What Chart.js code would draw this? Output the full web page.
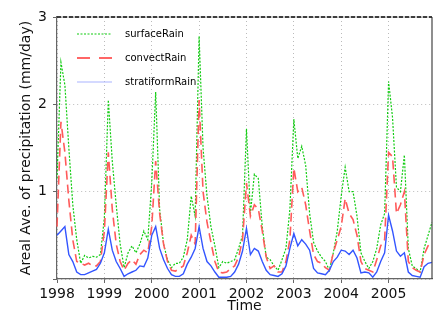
<!DOCTYPE html>
<html>
<head>
<meta charset="utf-8">
<script src="https://cdn.jsdelivr.net/npm/chart.js@4/dist/chart.umd.min.js"></script>
<style>
  html, body { margin: 0; padding: 0; background: #fff; }
  #wrap { width: 448px; height: 316px; }
</style>
</head>
<body>
<div id="wrap"><canvas id="chart" width="448" height="316"></canvas></div>
<script>
// years shown on the x axis, one point per month
const years = ['1998', '1999', '2000', '2001', '2002', '2003', '2004', '2005'];
const months = ['01', '02', '03', '04', '05', '06', '07', '08', '09', '10', '11', '12'];

// monthly areal average precipitation (mm/day), Jan 1998 .. Dec 2005
const surfaceRain = [
    1.15, 2.48, 2.22, 1.5, 0.85, 0.45, 0.18, 0.27, 0.24, 0.26, 0.25, 0.28,
    0.7, 2.05, 1.35, 0.85, 0.4, 0.13, 0.3, 0.38, 0.3, 0.4, 0.55, 0.45,
    1.1, 2.14, 0.8, 0.4, 0.22, 0.13, 0.18, 0.18, 0.25, 0.45, 0.95, 0.72,
    2.78, 1.5, 0.95, 0.6, 0.38, 0.13, 0.2, 0.18, 0.2, 0.22, 0.35, 0.5,
    1.72, 0.75, 1.2, 1.15, 0.6, 0.25, 0.22, 0.15, 0.1, 0.22, 0.35, 0.8,
    1.83, 1.38, 1.52, 1.3, 0.75, 0.42, 0.32, 0.25, 0.2, 0.1, 0.3, 0.55,
    0.95, 1.28, 1.0, 1.0, 0.72, 0.3, 0.2, 0.12, 0.2, 0.35, 0.62, 0.75,
    2.26, 1.85, 1.05, 1.0, 1.42, 0.35, 0.15, 0.12, 0.08, 0.35, 0.5, 0.65
];
const convectRain = [
    0.6, 1.8, 1.45, 0.9, 0.45, 0.2, 0.18, 0.16, 0.18, 0.15, 0.15, 0.2,
    0.55, 1.45, 0.8, 0.4, 0.2, 0.1, 0.18, 0.22, 0.17, 0.28, 0.33, 0.3,
    0.6, 1.35, 0.75, 0.4, 0.2, 0.1, 0.09, 0.12, 0.15, 0.3, 0.5, 0.4,
    2.05, 1.0, 0.65, 0.42, 0.2, 0.08, 0.07, 0.08, 0.12, 0.15, 0.25, 0.45,
    1.1, 0.72, 0.85, 0.8, 0.55, 0.25, 0.12, 0.15, 0.08, 0.08, 0.2, 0.45,
    1.27, 1.0, 1.05, 0.85, 0.55, 0.28, 0.2, 0.18, 0.13, 0.1, 0.3, 0.45,
    0.6, 0.92, 0.75, 0.68, 0.5, 0.2, 0.12, 0.1, 0.08, 0.22, 0.38, 0.45,
    1.45, 1.4, 0.75, 0.85, 1.0, 0.2, 0.13, 0.1, 0.08, 0.28, 0.38, 0.42
];
const stratiformRain = [
    0.5, 0.55, 0.6, 0.28, 0.2, 0.08, 0.05, 0.05, 0.07, 0.09, 0.11, 0.18,
    0.3, 0.57, 0.33, 0.2, 0.12, 0.03, 0.06, 0.08, 0.1, 0.15, 0.14, 0.24,
    0.5, 0.6, 0.35, 0.22, 0.12, 0.05, 0.03, 0.03, 0.06, 0.17, 0.25, 0.35,
    0.6, 0.35, 0.2, 0.15, 0.08, 0.02, 0.02, 0.02, 0.03, 0.08, 0.17, 0.32,
    0.58, 0.28, 0.35, 0.32, 0.2, 0.1, 0.05, 0.04, 0.03, 0.06, 0.15, 0.35,
    0.52, 0.38, 0.45, 0.4, 0.33, 0.12, 0.07, 0.06, 0.05, 0.1, 0.2, 0.25,
    0.33, 0.32, 0.28, 0.33, 0.24, 0.07, 0.08, 0.07, 0.02, 0.08, 0.2, 0.3,
    0.73, 0.55, 0.32, 0.26, 0.3, 0.08, 0.04, 0.03, 0.02, 0.14, 0.18, 0.19
];

// y tick values, 0 is left unlabeled like the original
const yTicks = [0, 1, 2, 3];

const labels = [];
years.forEach(y => months.forEach(m => labels.push(y + '-' + m)));

const FONT = 'DejaVu Sans';

// legend drawn inside the plot area + frame on top/right
const framePlugin = {
    id: 'frame',
    afterDatasetsDraw(chart) {
        const {ctx, chartArea: a} = chart;
        ctx.save();
        // right edge
        ctx.strokeStyle = '#444';
        ctx.lineWidth = 1.2;
        ctx.beginPath();
        ctx.moveTo(a.right, a.top);
        ctx.lineTo(a.right, a.bottom);
        ctx.stroke();
        // top edge, dashed dark
        ctx.strokeStyle = '#999';
        ctx.lineWidth = 1;
        ctx.beginPath();
        ctx.moveTo(a.left, a.top);
        ctx.lineTo(a.right, a.top);
        ctx.stroke();
        ctx.strokeStyle = '#111';
        ctx.lineWidth = 1.5;
        ctx.setLineDash([4, 2]);
        ctx.beginPath();
        ctx.moveTo(a.left, a.top);
        ctx.lineTo(a.right, a.top);
        ctx.stroke();
        ctx.setLineDash([]);

        // legend
        const rows = [
            {text: 'surfaceRain', color: '#11cc11', dash: [2, 1.5], width: 1.2},
            {text: 'convectRain', color: '#ff6666', dash: [13, 9], width: 2},
            {text: 'stratiformRain', color: '#aab4ff', dash: [], width: 1.2}
        ];
        ctx.font = '10px "' + FONT + '"';
        ctx.textBaseline = 'middle';
        ctx.fillStyle = '#000';
        rows.forEach((r, i) => {
            const y = 34 + i * 24;
            ctx.strokeStyle = r.color;
            ctx.lineWidth = r.width;
            ctx.setLineDash(r.dash);
            ctx.beginPath();
            ctx.moveTo(77, y);
            ctx.lineTo(112, y);
            ctx.stroke();
            ctx.setLineDash([]);
            ctx.fillText(r.text, 125, y);
        });
        ctx.restore();
    }
};

new Chart(document.getElementById('chart'), {
    type: 'line',
    data: {
        labels: labels,
        datasets: [
            {
                label: 'surfaceRain',
                data: surfaceRain,
                borderColor: '#11cc11',
                borderWidth: 1.2,
                borderDash: [2, 1.5],
                pointRadius: 0,
                tension: 0,
                order: 3
            },
            {
                label: 'convectRain',
                data: convectRain,
                borderColor: '#ff5a5a',
                borderWidth: 1.6,
                borderDash: [9, 5],
                pointRadius: 0,
                tension: 0,
                order: 2
            },
            {
                label: 'stratiformRain',
                data: stratiformRain,
                borderColor: '#3355ff',
                borderWidth: 1.4,
                pointRadius: 0,
                tension: 0,
                order: 1
            }
        ]
    },
    options: {
        responsive: false,
        animation: false,
        devicePixelRatio: 1,
        layout: {padding: {top: 17, right: 16, left: 0, bottom: 0}},
        plugins: {
            legend: {display: false},
            tooltip: {enabled: false}
        },
        scales: {
            x: {
                type: 'category',
                offset: false,
                afterFit: s => { s.height = 37; },
                ticks: {
                    autoSkip: false,
                    maxRotation: 0,
                    minRotation: 0,
                    padding: 3,
                    color: '#111',
                    font: {family: FONT, size: 14},
                    callback: (v, i) => i % 12 === 0 ? labels[i].slice(0, 4) : ''
                },
                grid: {
                    color: c => (c.index % 12 === 0 ? '#bbb' : 'transparent'),
                    tickColor: c => (c.index % 12 === 0 ? '#666' : 'transparent'),
                    tickLength: 4,
                    lineWidth: 1
                },
                border: {display: true, color: '#666', width: 1.2, dash: [1, 3]},
                title: {
                    display: true,
                    text: 'Time',
                    color: '#111',
                    font: {family: FONT, size: 14},
                    padding: {top: 0, bottom: 1}
                }
            },
            y: {
                min: 0,
                max: 3,
                afterFit: s => { s.width = 57; },
                afterBuildTicks: s => { s.ticks = yTicks.map(v => ({value: v})); },
                ticks: {
                    padding: 6,
                    color: '#111',
                    font: {family: FONT, size: 14},
                    callback: v => (v === 0 ? '' : v)
                },
                grid: {
                    color: '#bbb',
                    tickColor: '#666',
                    tickLength: 4,
                    lineWidth: 1
                },
                border: {display: true, color: '#666', width: 1.2, dash: [1, 3]},
                title: {
                    display: true,
                    text: 'Areal Ave. of precipitation (mm/day)',
                    color: '#111',
                    font: {family: FONT, size: 14},
                    padding: {top: 18, bottom: 0}
                }
            }
        }
    },
    plugins: [framePlugin]
});
</script>
</body>
</html>
